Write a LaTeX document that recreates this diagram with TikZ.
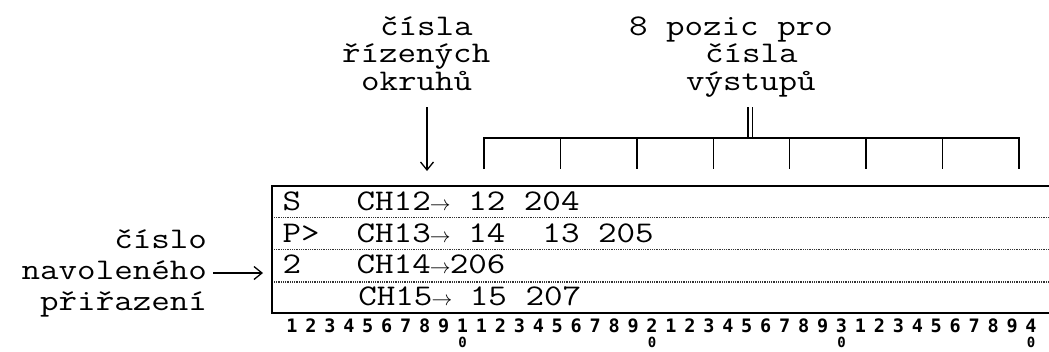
\documentclass[tikz,border=0pt]{standalone}
\usepackage{fontspec}
\newfontfamily\monofnt[FakeStretch=1.2]{Latin Modern Mono}
\newfontfamily\rulerfnt{DejaVu Sans Mono}
\usetikzlibrary{arrows.meta}
\newcommand\cellarr{\makebox[18.95pt]{\fontsize{22}{22}\selectfont$\rightarrow$}}
\begin{document}
\begin{tikzpicture}[x=1pt,y=-1pt,
  txt/.style={font=\monofnt\fontsize{30}{30}\selectfont, inner sep=0pt, outer sep=0pt, anchor=base west},
  txtr/.style={txt, anchor=base east},
  rul/.style={font=\rulerfnt\bfseries\fontsize{18.5}{18.5}\selectfont, inner sep=0pt, outer sep=0pt, anchor=base},
  rulz/.style={rul, font=\rulerfnt\bfseries\fontsize{14}{14}\selectfont},
  frame/.style={line width=2pt},
  sep/.style={line width=1.3pt, dash pattern=on 0.9pt off 0.9pt, black!80},
  brk/.style={line width=1.4pt},
  arr/.style={line width=1.3pt, -{Straight Barb[length=8pt,width=13pt]}}]
\useasboundingbox (0,0) rectangle (1049,351);
% top labels
\node[txt] (a1) at (380,35) {čísla};
\node[txt] (a2) at (342,62.5) {řízených};
\node[txt] (a3) at (361,90) {okruhů};
\node[txt] (b1) at (629,35) {8 pozic pro};
\node[txt] (b2) at (705,62.5) {čísla};
\node[txt] (b3) at (686,90) {výstupů};
% left label
\node[txtr] (c1) at (207,248) {číslo};
\node[txtr] (c2) at (207,279) {navoleného};
\node[txtr] (c3) at (207,310) {přiřazení};
% display box
\coordinate (boxTL) at (272,186);
\coordinate (boxBL) at (272,313);
\draw[frame] (1052,186) -- (boxTL) -- (boxBL) -- (1052,313);
\foreach \yy in {217.5,249.5,282}{\draw[sep] (274,\yy) -- (1049,\yy);}
% display rows
\node[txt] (r1) at (282.5,210) {S~~~CH12\cellarr~12~204};
\node[txt] (r2) at (282.5,242) {P>~~CH13\cellarr~14~~13~205};
\node[txt] (r3) at (282.5,273.5) {2~~~CH14\cellarr206};
\node[txt] (r4) at (358.3,305) {CH15\cellarr~15~207};
% arrows
\coordinate (dTop) at (427,107);
\coordinate (dBot) at (427,171);
\draw[arr] (dTop) -- (dBot);
\coordinate (lEnd) at (263,273);
\draw[arr] (c2.east |- lEnd) ++(6,0) -- (lEnd);
% bracket
\draw[brk] (484,169) -- (484,138) -- (1019,138) -- (1019,169);
\foreach \k in {1,...,6}{\draw[brk] ({484+\k*76.43},138) -- ({484+\k*76.43},169);}
\draw[line width=1.2pt] (748,107) -- (748,138);
\draw[line width=1.2pt] (752.5,107) -- (752.5,138);
% ruler
\foreach \ii in {1,...,40}{
  \pgfmathtruncatemacro\dig{mod(\ii,10)}
  \pgfmathtruncatemacro\tens{\ii/10}
  \ifnum\dig=0
    \node[rul] (n\ii) at ({292+(\ii-1)*18.95},332) {\tens};
    \node[rulz] (z\ii) at ({292+(\ii-1)*18.95},347.5) {0};
  \else
    \node[rul] (n\ii) at ({292+(\ii-1)*18.95},332) {\dig};
  \fi
}
\end{tikzpicture}
\end{document}
